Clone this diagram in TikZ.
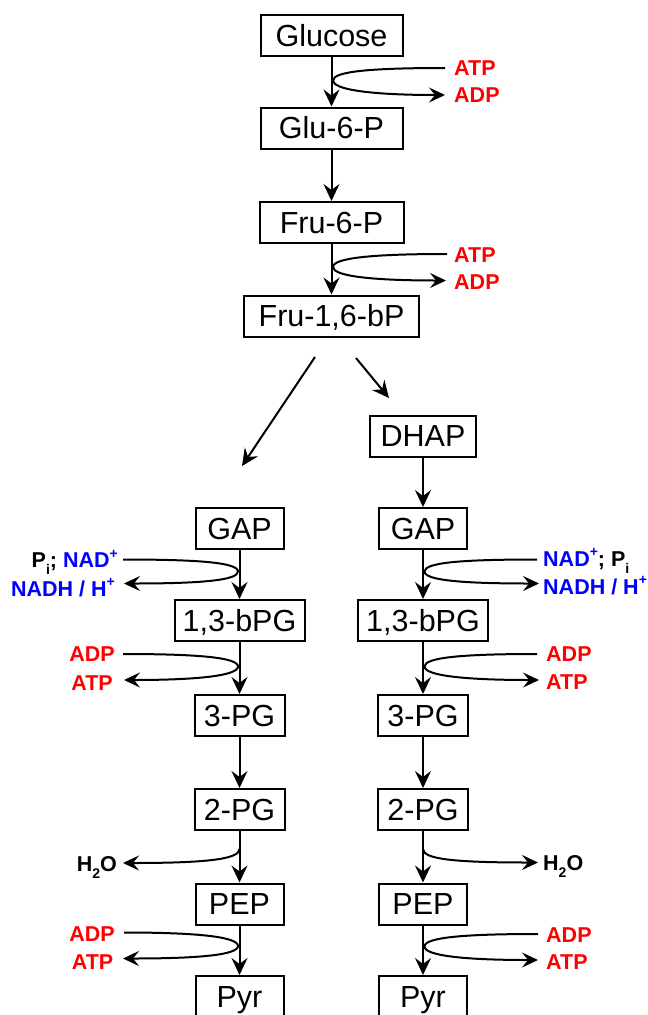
\documentclass[tikz,border=0pt]{standalone}
\usepackage{fontspec}
\setmainfont{Liberation Sans}
\usetikzlibrary{arrows.meta}
\definecolor{lred}{RGB}{255,0,0}
\definecolor{lblue}{RGB}{0,0,255}
\newcommand\subtxt[1]{\raisebox{-0.32em}{\fontsize{14}{14}\selectfont #1}}
\newcommand\suptxt[1]{\raisebox{0.45em}{\fontsize{14}{14}\selectfont #1}}
\begin{document}
\begin{tikzpicture}[x=1pt,y=-1pt,
  metab/.style={draw, line width=2pt, font=\fontsize{30.5}{30.5}\selectfont, minimum height=41pt, inner sep=0pt, text height=21.8pt, text depth=0pt},
  lbl/.style={font=\bfseries\fontsize{21.5}{21.5}\selectfont, inner sep=0pt, text height=15.4pt, text depth=0pt},
  redlbl/.style={lbl, text=lred},
  bluelbl/.style={lbl, text=lblue},
  arr/.style={line width=2pt, -{Stealth[length=17pt,width=16pt,inset=6pt]}},
  side/.style={line width=2pt, -{Stealth[length=16pt,width=15pt,inset=6pt]}}
]
\clip (0,0) rectangle (648,1015);
% centre column
\node[metab, minimum width=142pt] (glc) at (331.5,35.5) {Glucose};
\node[metab, minimum width=142pt] (g6p) at (331.5,128) {Glu-6-P};
\node[metab, minimum width=144pt] (f6p) at (331.5,222.5) {Fru-6-P};
\node[metab, minimum width=175pt] (fbp) at (331.5,316) {Fru-1,6-bP};
\node[metab, minimum width=106pt] (dhap) at (423,436) {DHAP};
% left column
\node[metab, minimum width=88pt] (gapL) at (239.5,528.5) {GAP};
\node[metab, minimum width=130pt] (bpgL) at (239.5,620.5) {1,3-bPG};
\node[metab, minimum width=90pt] (pgtL) at (239.5,715.5) {3-PG};
\node[metab, minimum width=90pt] (pgdL) at (239.5,809.5) {2-PG};
\node[metab, minimum width=88pt] (pepL) at (239.5,904) {PEP};
\node[metab, minimum width=88pt] (pyrL) at (239.5,996.5) {Pyr};
% right column
\node[metab, minimum width=88pt] (gapR) at (423,528.5) {GAP};
\node[metab, minimum width=130pt] (bpgR) at (423,620.5) {1,3-bPG};
\node[metab, minimum width=90pt] (pgtR) at (423,715.5) {3-PG};
\node[metab, minimum width=90pt] (pgdR) at (423,809.5) {2-PG};
\node[metab, minimum width=88pt] (pepR) at (423,904) {PEP};
\node[metab, minimum width=88pt] (pyrR) at (423,996.5) {Pyr};
% main arrows
\draw[arr] (glc) -- (g6p);
\draw[arr] (g6p) -- (f6p);
\draw[arr] (f6p) -- (fbp);
\draw[arr] (dhap) -- (gapR);
\draw[arr] (gapL) -- (bpgL);
\draw[arr] (bpgL) -- (pgtL);
\draw[arr] (pgtL) -- (pgdL);
\draw[arr] (pgdL) -- (pepL);
\draw[arr] (pepL) -- (pyrL);
\draw[arr] (gapR) -- (bpgR);
\draw[arr] (bpgR) -- (pgtR);
\draw[arr] (pgtR) -- (pgdR);
\draw[arr] (pgdR) -- (pepR);
\draw[arr] (pepR) -- (pyrR);
% split arrows
\coordinate (dLa) at (315,357);
\coordinate (dLb) at (242,466);
\coordinate (dRa) at (356,358);
\coordinate (dRb) at (389,398);
\draw[arr] (dLa) -- (dLb);
\draw[arr] (dRa) -- (dRb);
% labels
\node[redlbl, anchor=west] (atp1) at (454,68) {ATP};
\node[redlbl, anchor=west] (adp1) at (454,94.5) {ADP};
\node[redlbl, anchor=west] (atp2) at (454,254.5) {ATP};
\node[redlbl, anchor=west] (adp2) at (454,282) {ADP};
\node[lbl, anchor=east] (nadL) at (118,560) {P\subtxt{i}; \textcolor{lblue}{NAD\suptxt{+}}};
\node[bluelbl, anchor=east] (nadhL) at (115,588.5) {NADH / H\suptxt{+}};
\node[redlbl, anchor=east] (adp3) at (115,654) {ADP};
\node[redlbl, anchor=east] (atp3) at (113,682.5) {ATP};
\node[lbl, anchor=east] (h2oL) at (117,864) {H\subtxt{2}O};
\node[redlbl, anchor=east] (adp4) at (115,933.5) {ADP};
\node[redlbl, anchor=east] (atp4) at (113.5,962) {ATP};
\node[lbl, anchor=west] (nadR) at (543,558.5) {\textcolor{lblue}{NAD\suptxt{+}}; P\subtxt{i}};
\node[bluelbl, anchor=west] (nadhR) at (543,586.5) {NADH / H\suptxt{+}};
\node[redlbl, anchor=west] (adp5) at (546,654) {ADP};
\node[redlbl, anchor=west] (atp5) at (546,681.5) {ATP};
\node[lbl, anchor=west] (h2oR) at (543,863) {H\subtxt{2}O};
\node[redlbl, anchor=west] (adp6) at (546,935) {ADP};
\node[redlbl, anchor=west] (atp6) at (546,961.5) {ATP};
% side arrow coordinates
\coordinate (s1) at (445,68);   \coordinate (v1) at (333,80.5);  \coordinate (e1) at (445,95);
\coordinate (s2) at (447,254);  \coordinate (v2) at (333,267);   \coordinate (e2) at (446,280.5);
\coordinate (s3) at (123,559.5);\coordinate (v3) at (238,571.5); \coordinate (e3) at (124,583.5);
\coordinate (s4) at (123,654);  \coordinate (v4) at (238,666.5); \coordinate (e4) at (124,680);
\coordinate (h5) at (239.5,849);\coordinate (e5) at (123,863);
\coordinate (s6) at (124,932.5);\coordinate (v6) at (238,946);   \coordinate (e6) at (123,958.5);
\coordinate (s7) at (537,559.5);\coordinate (v7) at (424.5,571.5);\coordinate (e7) at (539,583.5);
\coordinate (s8) at (537,654);  \coordinate (v8) at (424.5,666.5);\coordinate (e8) at (539,680);
\coordinate (h9) at (423,849);  \coordinate (e9) at (538,862.5);
\coordinate (s10) at (538,934); \coordinate (v10) at (424.5,946.5);\coordinate (e10) at (538,960);
% right-opening hairpins
\draw[side] (s1) .. controls +(-75,0) and +(0,-9) .. (v1) .. controls +(0,9) and +(-75,0) .. (e1);
\draw[side] (s2) .. controls +(-75,0) and +(0,-9) .. (v2) .. controls +(0,9) and +(-75,0) .. (e2);
\draw[side] (s7) .. controls +(-75,0) and +(0,-9) .. (v7) .. controls +(0,9) and +(-75,0) .. (e7);
\draw[side] (s8) .. controls +(-75,0) and +(0,-9) .. (v8) .. controls +(0,9) and +(-75,0) .. (e8);
\draw[side] (s10) .. controls +(-75,0) and +(0,-9) .. (v10) .. controls +(0,9) and +(-75,0) .. (e10);
% left-opening hairpins
\draw[side] (s3) .. controls +(75,0) and +(0,-9) .. (v3) .. controls +(0,9) and +(75,0) .. (e3);
\draw[side] (s4) .. controls +(75,0) and +(0,-9) .. (v4) .. controls +(0,9) and +(75,0) .. (e4);
\draw[side] (s6) .. controls +(75,0) and +(0,-9) .. (v6) .. controls +(0,9) and +(75,0) .. (e6);
% water
\draw[side] (h5) .. controls +(0,10) and +(85,0) .. (e5);
\draw[side] (h9) .. controls +(0,10) and +(-85,0) .. (e9);
\end{tikzpicture}
\end{document}
